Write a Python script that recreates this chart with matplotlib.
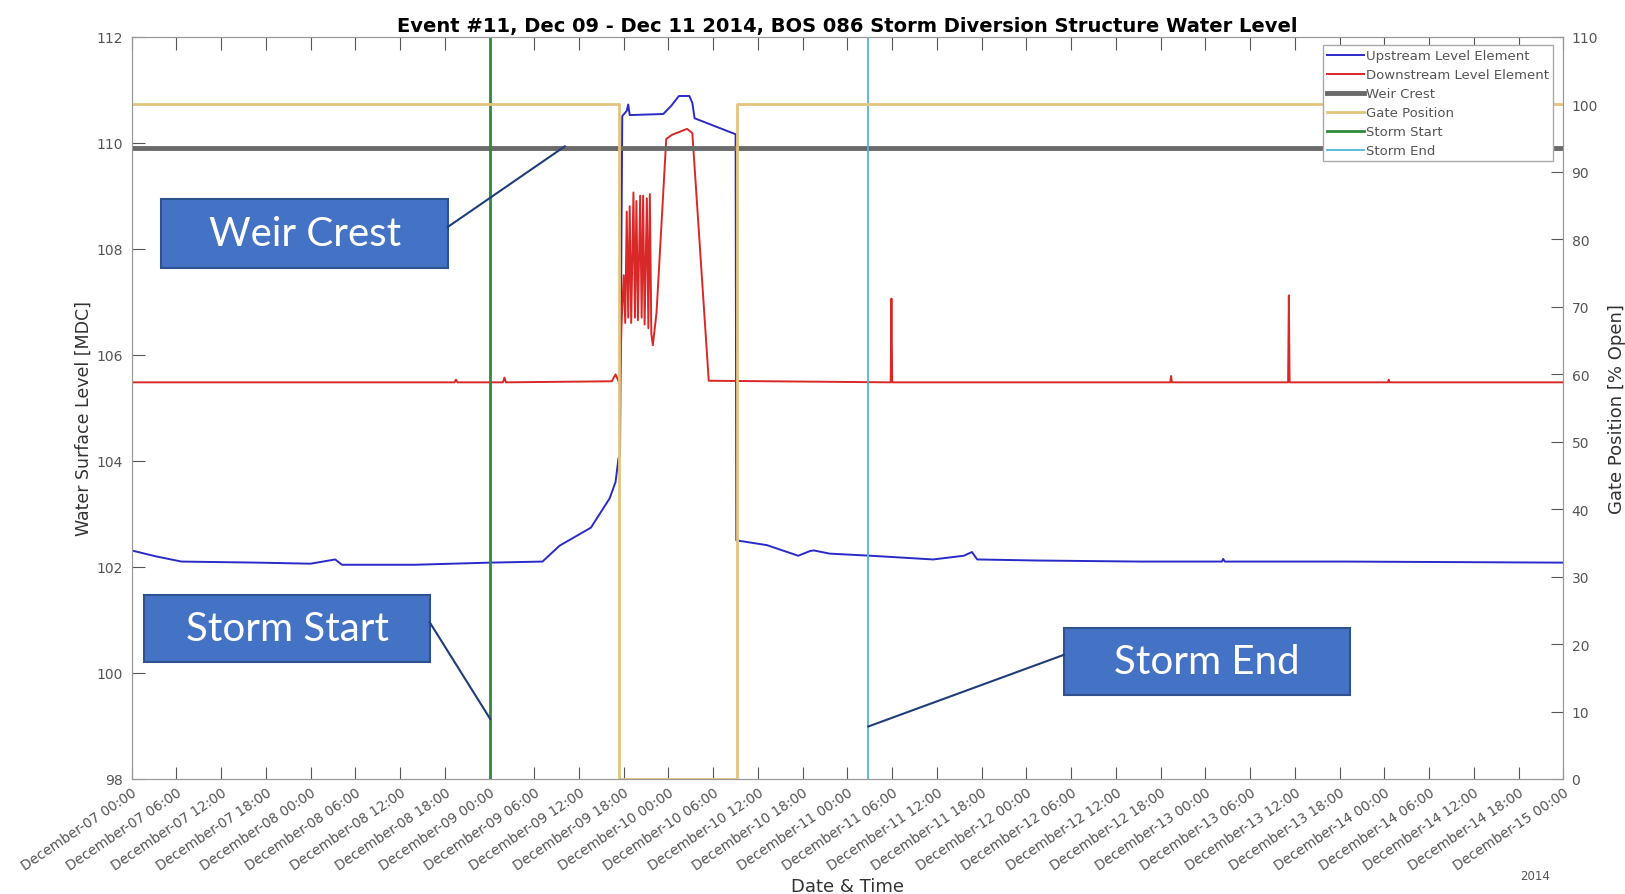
import matplotlib
matplotlib.use("Agg")
import matplotlib.pyplot as plt
import matplotlib.dates as mdates
from matplotlib.patches import Rectangle
import pandas as pd

plt.rcParams['font.family'] = ['DejaVu Sans']

start = pd.Timestamp('2014-12-07 00:00')
end = pd.Timestamp('2014-12-15 00:00')

# hours after Dec 07 00:00, and levels
up_hours = [0, 3.2, 6.7, 17, 24, 27.3, 28.2, 38, 48, 55.1, 57.4, 61.6, 64.1, 64.9, 65.3, 65.5,
            65.8, 66.4, 66.6, 66.8, 71.3, 72.4, 73.4, 74.8, 75.2, 75.5, 80.6, 81.0,
            81.1, 85.2, 89.4, 91.0, 91.5, 93.6, 99.1, 107.5, 111.6, 112.7, 113.4, 121.4,
            135.3, 146.2, 146.4, 146.6, 163, 192]
up_level = [102.31, 102.2, 102.1, 102.08, 102.06, 102.14, 102.04, 102.04, 102.08, 102.1, 102.4,
            102.74, 103.29, 103.6, 104.05, 104.1,
            110.5, 110.6, 110.72, 110.52, 110.54, 110.7, 110.88, 110.88, 110.75, 110.46, 110.18,
            110.16, 102.5, 102.41, 102.21, 102.3, 102.31, 102.25, 102.21, 102.14, 102.21,
            102.28, 102.14, 102.12, 102.1, 102.1, 102.15, 102.1, 102.1, 102.08]

down_hours = [0, 43.3, 43.5, 43.7, 49.8, 50.0, 50.2, 64.4, 64.9, 65.5, 65.7, 66.0, 66.2, 66.4,
              66.6, 66.8, 67.0, 67.3, 67.5, 67.7, 67.9, 68.2, 68.4, 68.6, 68.8, 69.1, 69.3,
              69.5, 69.7, 69.9, 70.4, 71.7, 72.5, 74.5, 75.2, 77.4, 101.8, 101.9, 102.0,
              139.3, 139.4, 139.5, 155.1, 155.2, 155.3, 168.5, 168.6, 168.7, 192]
down_level = [105.48, 105.48, 105.53, 105.48, 105.48, 105.57, 105.48, 105.5, 105.63, 105.44,
              106.55, 107.5, 106.6, 108.7, 106.7, 108.8, 106.6, 109.06, 106.7, 108.9, 106.65,
              109.0, 106.7, 109.0, 106.57, 108.95, 106.5, 109.03, 106.4, 106.18, 106.8, 110.07,
              110.15, 110.26, 110.18, 105.51, 105.48, 107.06, 105.48, 105.48, 105.6, 105.48,
              105.48, 107.12, 105.48, 105.48, 105.53, 105.48, 105.48]

weir_hours = [0, 192]
weir_level = [109.9, 109.9]

gate_hours = [0, 65.3, 65.3, 81.2, 81.2, 192]
gate_open = [100, 100, 0, 0, 100, 100]

storm_start_hour = 48
storm_end_hour = 98.75


def to_time(hours):
    return (start + pd.to_timedelta(hours, unit='h')).to_pydatetime()


fig = plt.figure(figsize=(16.25, 8.95), dpi=100)
ax = fig.add_axes([0.081, 0.1285, 0.881, 0.8295])
ax2 = ax.twinx()

grey = '#555555'

l_up, = ax.plot(to_time(up_hours), up_level, color='#2a2ac8', lw=1.4, label='Upstream Level Element')
l_down, = ax.plot(to_time(down_hours), down_level, color='#d82828', lw=1.4, label='Downstream Level Element')
l_weir, = ax.plot(to_time(weir_hours), weir_level, color='#6a6a6a', lw=3.5, label='Weir Crest')
l_start = ax.axvline(to_time([storm_start_hour])[0], color='#2f8a3a', lw=2, label='Storm Start')
l_end = ax.axvline(to_time([storm_end_hour])[0], color='#4fb8d8', lw=1.3, label='Storm End')
l_gate, = ax2.plot(to_time(gate_hours), gate_open, color='#e3c47e', lw=2, label='Gate Position')

ax.set_xlim(start.to_pydatetime(), end.to_pydatetime())
ax.set_ylim(98, 112)
ax.set_yticks(range(98, 113, 2))
ax2.set_ylim(0, 110)
ax2.set_yticks(range(0, 111, 10))

ax.xaxis.set_major_locator(mdates.HourLocator(byhour=[0, 6, 12, 18]))
ax.xaxis.set_major_formatter(mdates.DateFormatter('%B-%d %H:%M'))
for lab in ax.get_xticklabels():
    lab.set_rotation(34)
    lab.set_ha('right')
    lab.set_rotation_mode('anchor')

ax.tick_params(axis='x', direction='in', length=9, top=True, labelsize=9.8, colors=grey, pad=4)
ax.tick_params(axis='y', direction='in', length=9, labelsize=10, colors=grey, pad=6)
ax2.tick_params(axis='y', direction='in', length=9, labelsize=10, colors=grey, pad=6)
for a in (ax, ax2):
    for s in a.spines.values():
        s.set_color('#999999')

ax.set_title('Event #11, Dec 09 - Dec 11 2014, BOS 086 Storm Diversion Structure Water Level',
             fontsize=14, fontweight='bold', pad=4)
ax.set_xlabel('Date & Time', fontsize=13, color='#333333')
ax.xaxis.set_label_coords(0.5, -0.132)
ax.set_ylabel('Water Surface Level [MDC]', fontsize=12.5, color='#333333')
ax.yaxis.set_label_coords(-0.027, 0.487)
ax2.set_ylabel('Gate Position [% Open]', fontsize=13, color='#333333')
ax2.yaxis.set_label_coords(1.031, 0.5)
ax.text(0.98, -0.135, '2014', transform=ax.transAxes, fontsize=8.5, color=grey, ha='center')

handles = [l_up, l_down, l_weir, l_gate, l_start, l_end]
leg = ax2.legend(handles=handles, loc='upper right', bbox_to_anchor=(0.993, 0.988),
                 fontsize=9.5, frameon=True, fancybox=False, framealpha=1,
                 edgecolor='#aaaaaa', handlelength=2.8, handletextpad=0.2,
                 labelspacing=0.45, borderpad=0.3, borderaxespad=0)
for t in leg.get_texts():
    t.set_color(grey)

# callout boxes: (text, box hours, box levels, leader start, leader end)
callouts = [
    ('Weir Crest', (4.0, 42.4), (107.64, 108.93), (42.4, 108.41), (58.1, 109.93)),
    ('Storm Start', (1.7, 40.0), (100.20, 101.47), (40.0, 100.95), (48.1, 99.13)),
    ('Storm End', (125.0, 163.4), (99.58, 100.85), (125.0, 100.34), (98.8, 98.99)),
]
for text, (h0, h1), (y0, y1), p0, p1 in callouts:
    x0, x1 = mdates.date2num(to_time([h0, h1]))
    ax2.add_patch(Rectangle((x0, y0), x1 - x0, y1 - y0, transform=ax.transData,
                            facecolor='#4472c4', edgecolor='#2f528f', lw=1.5, zorder=5))
    ax2.text((x0 + x1) / 2, (y0 + y1) / 2, text, transform=ax.transData, ha='center',
             va='center', color='white', fontsize=29, family=['Lato', 'DejaVu Sans'], zorder=6)
    ax2.plot(to_time([p0[0], p1[0]]), [p0[1], p1[1]], transform=ax.transData,
             color='#1f3d7a', lw=1.5, zorder=5)

fig.savefig('out.png', dpi=100)
